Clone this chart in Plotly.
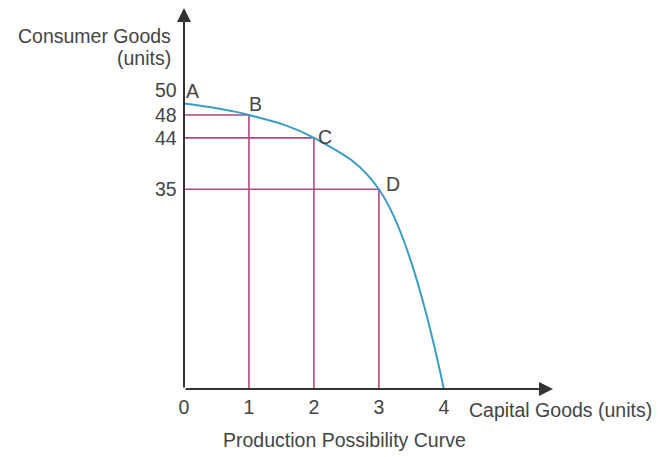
import plotly.graph_objects as go

capital = [0, 1, 2, 3, 4]
consumer = [50, 48, 44, 35, 0]
point_labels = ["A", "B", "C", "D", ""]
x_ticks = [0, 1, 2, 3, 4]
y_ticks = [50, 48, 44, 35]

FONT = "Liberation Sans, Arial, sans-serif"
TXT = "#444444"
PINK = "#ad4a7c"
BLUE = "#3a9dc2"
AX = "#333333"
FS = 19.5

# page has an 8px body margin; figure coordinates = page coordinates - 8
OFF = 8
W, H = 661 - OFF, 457 - OFF
ml, mr, mt, mb = 184 - OFF, W - (553 - OFF), 0, H - (389 - OFF)

fig = go.Figure()

for cx, cy in zip(capital[1:4], consumer[1:4]):
    fig.add_trace(go.Scatter(x=[0, cx, cx], y=[cy, cy, 0], mode="lines",
                             line=dict(color=PINK, width=1.6), hoverinfo="skip",
                             showlegend=False))

fig.add_trace(go.Scatter(x=capital, y=consumer, mode="lines",
                         line=dict(color=BLUE, width=2, shape="spline", smoothing=1.1),
                         showlegend=False))

shifts = {"A": (8, 13), "B": (7, 11), "C": (11, 1), "D": (14, 5)}
for cx, cy, lab in zip(capital, consumer, point_labels):
    if lab:
        dx, dy = shifts[lab]
        fig.add_annotation(x=cx, y=cy, text=lab, showarrow=False, xshift=dx, yshift=dy,
                           font=dict(family=FONT, size=FS, color=TXT))

# y tick labels (50 sits slightly above its level, as in the reference)
for v in y_ticks:
    fig.add_annotation(x=0, y=v, xref="x", yref="y", text=str(v), showarrow=False,
                       xanchor="right", xshift=-5, yshift=14 if v == 50 else 0,
                       font=dict(family=FONT, size=FS, color=TXT))

# axis arrows
fig.add_annotation(x=5.68, y=0, ax=0, ay=0, xref="x", yref="y", axref="x", ayref="y",
                   showarrow=True, arrowhead=2, arrowsize=1.4, arrowwidth=2, arrowcolor=AX, text="")
fig.add_annotation(x=0, y=66.75, ax=0, ay=0, xref="x", yref="y", axref="x", ayref="y",
                   showarrow=True, arrowhead=2, arrowsize=1.4, arrowwidth=2, arrowcolor=AX, text="")


def px(xp, yp):
    xp -= OFF
    yp -= OFF
    return (xp - ml) / (W - ml - mr), 1 - (yp - mt) / (H - mt - mb)


texts = [
    ("Capital Goods (units)", 467, 410, "left"),
    ("Production Possibility Curve", 221, 440, "left"),
    ("Consumer Goods", 173, 36, "right"),
    ("(units)", 173, 58, "right"),
]
for t, xp, yp, al in texts:
    x, y = px(xp, yp)
    fig.add_annotation(x=x, y=y, xref="paper", yref="paper", text=t, showarrow=False,
                       xanchor=al, yanchor="middle",
                       font=dict(family=FONT, size=FS, color=TXT))

fig.update_layout(
    width=W, height=H,
    margin=dict(l=ml, r=mr, t=mt, b=mb),
    plot_bgcolor="white", paper_bgcolor="white",
    xaxis=dict(range=[0, 5.68], tickvals=x_ticks, ticktext=[str(v) for v in x_ticks],
               showgrid=False, zeroline=False, showline=False, ticks="",
               ticklabelstandoff=4,
               tickfont=dict(family=FONT, size=FS, color=TXT)),
    yaxis=dict(range=[0, 66.75], showgrid=False, zeroline=False, showline=False,
               showticklabels=False, ticks=""),
)

fig.write_html("out.html")
